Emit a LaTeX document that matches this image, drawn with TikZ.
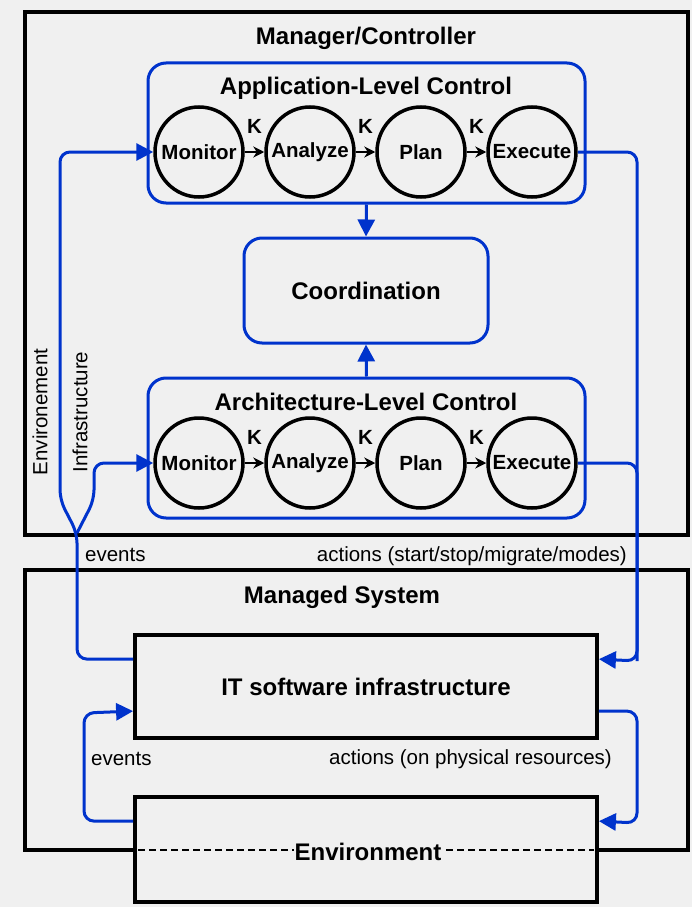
\documentclass[tikz,border=0pt]{standalone}
\usepackage{fontspec}
\setmainfont{Liberation Sans}
\usetikzlibrary{arrows.meta,shapes.geometric,calc}
\definecolor{bg}{HTML}{F0F0F0}
\definecolor{flowblue}{HTML}{0033CC}
\newcommand\titlefont{\fontsize{24}{28}\selectfont\bfseries}
\newcommand\stagefont{\fontsize{20.5}{24}\selectfont\bfseries}
\newcommand\labelfont{\fontsize{20.5}{24}\selectfont}
\tikzset{
  frame/.style={draw=black, line width=3.8pt},
  bluebox/.style={draw=flowblue, line width=3pt, rounded corners=18pt, inner sep=0pt},
  stage/.style={ellipse, draw=black, line width=3.5pt, minimum width=88pt, minimum height=90pt, inner sep=0pt,
    label={[font=\stagefont, inner sep=0pt]center:#1}},
  flow/.style={draw=flowblue, line width=3pt, rounded corners=10pt, -{Triangle[length=17pt,width=17pt]}},
  flowline/.style={draw=flowblue, line width=3pt, rounded corners=10pt},
  karrow/.style={draw=black, line width=2pt, -{Stealth[length=11pt,width=11pt]}},
  klabel/.style={font=\stagefont, yshift=26pt, inner sep=0pt},
  title/.style={font=\titlefont, inner sep=0pt},
  lbl/.style={font=\labelfont, inner sep=0pt},
  envdash/.style={draw=black, line width=2.6pt, dash pattern=on 7pt off 4pt}
}
\begin{document}
\begin{tikzpicture}[x=1pt,y=-1pt]
\fill[bg] (0,0) rectangle (692,907);
\useasboundingbox (0,0) rectangle (692,907);

% Manager/Controller frame
\node[frame, minimum width=663pt, minimum height=523pt, inner sep=0pt] (mc) at (356.5,273.5) {};
\node[title] (mctitle) at (366,38) {Manager/Controller};

% Application-level control
\node[bluebox, minimum width=437pt, minimum height=140pt] (app) at (366.5,133) {};
\node[title] (apptitle) at (366,88) {Application-Level Control};
\node[stage=Monitor] (am) at (199,152) {};
\node[stage=Analyze] (aa) at (310,152) {};
\node[stage=Plan] (ap) at (421,152) {};
\node[stage=Execute] (ae) at (532,152) {};
\draw[karrow] (am) -- node[klabel] {K} (aa);
\draw[karrow] (aa) -- node[klabel] {K} (ap);
\draw[karrow] (ap) -- node[klabel] {K} (ae);

% Coordination
\node[bluebox, minimum width=244pt, minimum height=105pt, font=\titlefont] (coord) at (366,290.5) {Coordination};

% Architecture-level control
\node[bluebox, minimum width=437pt, minimum height=140pt] (arch) at (366.5,448) {};
\node[title] (archtitle) at (366,402) {Architecture-Level Control};
\node[stage=Monitor] (rm) at (199,463) {};
\node[stage=Analyze] (ra) at (310,463) {};
\node[stage=Plan] (rp) at (421,463) {};
\node[stage=Execute] (re) at (532,463) {};
\draw[karrow] (rm) -- node[klabel] {K} (ra);
\draw[karrow] (ra) -- node[klabel] {K} (rp);
\draw[karrow] (rp) -- node[klabel] {K} (re);

\draw[flow] (app.south) -- (coord.north);
\draw[flow] (arch.north) -- (coord.south);

% Managed system frame
\coordinate (msl) at (135,850);
\coordinate (msr) at (597,850);
\draw[frame] (msl) -- (25,850) -- (25,570) -- (688,570) -- (688,850) -- (msr);
\node[title] (mstitle) at (342,597) {Managed System};

\node[frame, minimum width=462pt, minimum height=103pt, inner sep=0pt, font=\titlefont] (it) at (366,686.5) {IT software infrastructure};
\node[frame, minimum width=462pt, minimum height=105pt, inner sep=0pt] (env) at (366,849.5) {};
\draw[envdash] ($(msl)+(3,0)$) -- ($(msr)+(-3,0)$);
\node[title, fill=bg, inner xsep=0.5pt] (envtitle) at (368,852) {Environment};

% rotated labels
\node[lbl, rotate=90] (envlab) at (40,412) {Environement};
\node[lbl, rotate=90] (inflab) at (80,412) {Infrastructure};

% left feedback (events)
\coordinate (jn) at (77,533);
\coordinate (envbend) at (60,500);
\coordinate (infbend) at (94,500);
\draw[flow] ($(it.north west)+(0,26)$) -| (jn) -- (envbend) |- (am.west);
\draw[flow] (jn) -- (infbend) |- (rm.west);

% right actions
\coordinate (rcol) at (637,661);
\draw[flow] (ae.east) -| (rcol) -- ($(it.north east)+(0,26)$);
\draw[flowline] (re.east) -| (rcol);

% lower loop
\coordinate (lowl) at (84,713);
\coordinate (lowr) at (637,823);
\draw[flow] ($(env.north west)+(0,26)$) -| (lowl) -- ($(it.north west)+(0,78)$);
\draw[flow] ($(it.north east)+(0,78)$) -| (lowr) -- ($(env.north east)+(0,26)$);

% labels
\node[lbl, anchor=west] (ev1) at (85,555) {events};
\node[lbl, anchor=east] (ac1) at (627,556) {actions (start/stop/migrate/modes)};
\node[lbl, anchor=west] (ev2) at (91,759) {events};
\node[lbl, anchor=east] (ac2) at (612,759) {actions (on physical resources)};
\end{tikzpicture}
\end{document}
